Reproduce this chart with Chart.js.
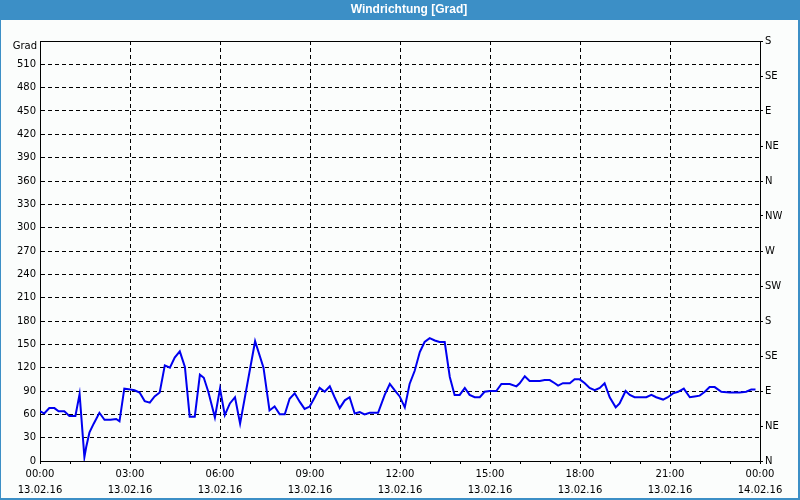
<!DOCTYPE html>
<html>
<head>
<meta charset="utf-8">
<script src="https://cdn.jsdelivr.net/npm/chart.js@4/dist/chart.umd.min.js"></script>
<style>
  html, body { margin: 0; padding: 0; background: #fbfdfc; }
  #wrap { width: 800px; height: 500px; }
</style>
</head>
<body>
<div id="wrap"><canvas id="chart" width="800" height="500"></canvas></div>
<script>
// hours since 00:00 on 13.02.16
const hours = [
    0.00, 0.14, 0.31, 0.48, 0.62, 0.81, 0.98, 1.18, 1.32, 1.48, 1.54, 1.65, 1.79, 1.98,
    2.15, 2.35, 2.54, 2.65, 2.81, 3.01, 3.15, 3.32, 3.49, 3.66, 3.82, 3.99, 4.16, 4.33,
    4.49, 4.66, 4.83, 4.99, 5.16, 5.33, 5.46, 5.61, 5.83, 6.00, 6.16, 6.33, 6.50, 6.67,
    7.17, 7.45, 7.65, 7.82, 7.99, 8.16, 8.32, 8.49, 8.66, 8.82, 8.99, 9.16, 9.32, 9.49,
    9.66, 9.82, 9.99, 10.16, 10.32, 10.49, 10.66, 10.82, 10.99, 11.27, 11.49, 11.66, 11.82, 11.99,
    12.16, 12.32, 12.49, 12.66, 12.82, 12.99, 13.16, 13.32, 13.49, 13.66, 13.82, 13.99, 14.16, 14.32,
    14.49, 14.66, 14.82, 14.99, 15.21, 15.38, 15.66, 15.88, 15.99, 16.16, 16.32, 16.66, 16.82, 16.99,
    17.16, 17.27, 17.43, 17.66, 17.82, 17.99, 18.16, 18.32, 18.49, 18.66, 18.82, 18.99, 19.19, 19.32,
    19.52, 19.66, 19.82, 19.99, 20.21, 20.38, 20.54, 20.77, 20.93, 21.10, 21.27, 21.46, 21.66, 21.82,
    21.99, 22.16, 22.32, 22.49, 22.71, 22.99, 23.32, 23.54, 23.71, 23.85
];
// wind direction in degrees
const direction = [
    64, 61, 68, 68, 64, 64, 58, 58, 86, 5, 18, 37, 48, 62,
    53, 53, 54, 51, 93, 92, 91, 88, 77, 75, 83, 88, 123, 120,
    133, 141, 121, 57, 57, 111, 107, 89, 56, 93, 59, 74, 82, 48,
    154, 120, 65, 70, 60, 60, 80, 87, 76, 67, 70, 82, 94, 89,
    96, 82, 68, 78, 82, 61, 63, 60, 62, 62, 85, 99, 91, 83,
    69, 99, 116, 140, 153, 158, 155, 153, 153, 108, 85, 85, 94, 85,
    82, 82, 89, 90, 90, 99, 99, 96, 100, 109, 103, 103, 104, 104,
    100, 97, 100, 100, 105, 105, 100, 94, 91, 94, 100, 82, 69, 74,
    90, 85, 82, 82, 82, 85, 82, 79, 82, 87, 89, 93, 82, 83,
    84, 89, 95, 95, 89, 88, 88, 89, 92, 92
];
const timeLabels = ['00:00', '03:00', '06:00', '09:00', '12:00', '15:00', '18:00', '21:00', '00:00'];
const dateLabels = ['13.02.16', '13.02.16', '13.02.16', '13.02.16', '13.02.16', '13.02.16', '13.02.16', '13.02.16', '14.02.16'];
const compassLabels = ['N', 'NE', 'E', 'SE', 'S', 'SW', 'W', 'NW'];
const titleText = 'Windrichtung [Grad]';
const unitText = 'Grad';

const barBlue = '#3c8fc6';
const tickFont = { family: 'DejaVu Sans', size: 10 };

// window frame, title bar, unit label and solid top border of the plot
const framePlugin = {
    id: 'frame',
    beforeDraw(chart) {
        const { ctx, width, height } = chart;
        ctx.save();
        ctx.fillStyle = '#fbfdfc';
        ctx.fillRect(0, 0, width, height);
        ctx.fillStyle = barBlue;
        ctx.fillRect(0, 0, width, 20);
        ctx.fillRect(0, 0, 1, height);
        ctx.fillRect(width - 2, 0, 2, height);
        ctx.fillRect(0, height - 2, width, 2);

        ctx.fillStyle = '#ffffff';
        ctx.font = 'bold 12px "Liberation Sans"';
        ctx.textAlign = 'center';
        ctx.textBaseline = 'middle';
        ctx.fillText(titleText, 409, 10);
        ctx.restore();
    },
    afterDraw(chart) {
        const { ctx, chartArea } = chart;
        const y = Math.round(chartArea.top - 0.5) + 0.5;
        ctx.save();
        ctx.strokeStyle = '#000';
        ctx.lineWidth = 1;
        ctx.beginPath();
        ctx.moveTo(chartArea.left, y);
        ctx.lineTo(chartArea.right, y);
        ctx.stroke();

        ctx.fillStyle = '#000';
        ctx.font = '10px "DejaVu Sans"';
        ctx.textAlign = 'right';
        ctx.textBaseline = 'middle';
        ctx.fillText(unitText, chartArea.left - 3, chartArea.top + 5);
        ctx.restore();
    }
};

const points = hours.map((h, i) => ({ x: h, y: direction[i] }));

new Chart(document.getElementById('chart').getContext('2d'), {
    type: 'line',
    data: {
        datasets: [{
            label: 'Windrichtung',
            data: points,
            borderColor: '#0000f0',
            borderWidth: 2,
            pointRadius: 0,
            tension: 0,
            fill: false
        }]
    },
    options: {
        responsive: false,
        animation: false,
        layout: { padding: { top: 41 } },
        plugins: {
            legend: { display: false },
            tooltip: { enabled: false },
            title: { display: false }
        },
        scales: {
            x: {
                type: 'linear',
                min: 0,
                max: 24,
                afterFit: scale => { scale.height = 39; },
                ticks: {
                    stepSize: 1,
                    autoSkip: false,
                    maxRotation: 0,
                    padding: 3,
                    color: '#000',
                    font: { ...tickFont, lineHeight: 1.53 },
                    callback: value => value % 3 === 0 ? [timeLabels[value / 3], dateLabels[value / 3]] : ''
                },
                grid: {
                    color: ctx => ctx.tick && ctx.tick.value % 3 === 0 ? '#000' : 'rgba(0,0,0,0)',
                    tickColor: '#000',
                    tickLength: 3,
                    lineWidth: 1
                },
                border: { display: true, color: '#000', width: 1, dash: [4, 3] }
            },
            y: {
                position: 'left',
                min: 0,
                max: 540,
                afterFit: scale => { scale.width = 40; },
                ticks: {
                    stepSize: 30,
                    padding: 4,
                    color: '#000',
                    font: tickFont,
                    callback: value => value === 540 ? '' : value
                },
                grid: { color: '#000', lineWidth: 1, drawTicks: false },
                border: { display: true, color: '#000', width: 1, dash: [4, 3] }
            },
            y2: {
                position: 'right',
                min: 0,
                max: 540,
                afterFit: scale => { scale.width = 40; },
                ticks: {
                    stepSize: 45,
                    padding: 2,
                    color: '#000',
                    font: tickFont,
                    callback: value => compassLabels[(value / 45) % 8]
                },
                grid: { drawOnChartArea: false, color: '#000', tickColor: '#000', tickLength: 3 },
                border: { display: true, color: '#000', width: 1 }
            }
        }
    },
    plugins: [framePlugin]
});
</script>
</body>
</html>
